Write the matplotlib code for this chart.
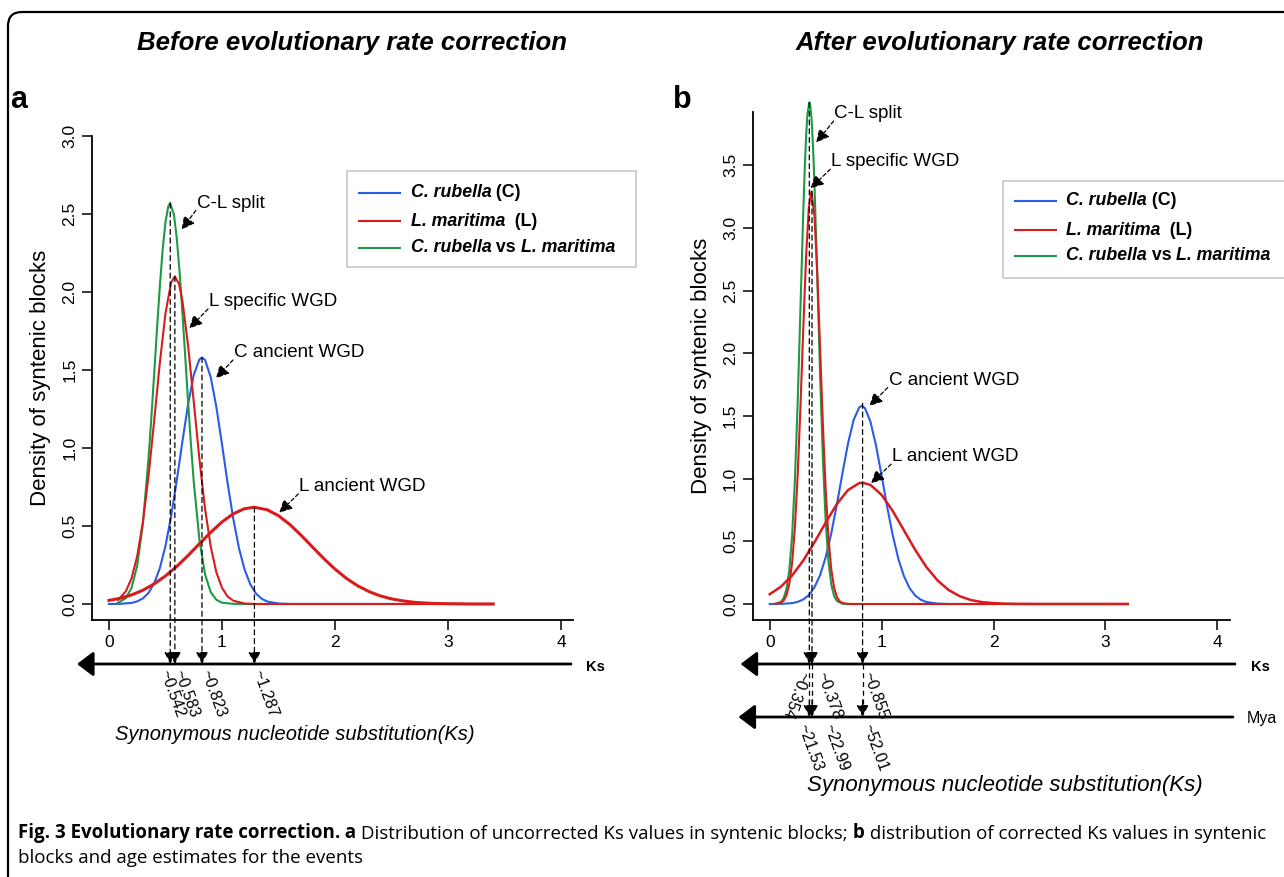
import matplotlib
matplotlib.use('Agg')
import matplotlib.pyplot as plt
from matplotlib.patches import FancyBboxPatch, Rectangle
from matplotlib.lines import Line2D
from matplotlib.transforms import IdentityTransform

W, H = 1284, 877
plt.rcParams['font.family'] = ['Liberation Sans', 'DejaVu Sans']

# ---------------- data ----------------
# Panel a (before correction)
a_blue_ks = [0.0, 0.1, 0.2, 0.25, 0.3, 0.35, 0.4, 0.45, 0.5, 0.55, 0.6, 0.65, 0.7, 0.75, 0.8, 0.823,
             0.85, 0.9, 0.95, 1.0, 1.05, 1.1, 1.15, 1.2, 1.25, 1.3, 1.35, 1.4, 1.5, 1.6, 3.4]
a_blue_d = [0.0, 0.001, 0.007, 0.017, 0.036, 0.071, 0.133, 0.230, 0.372, 0.563, 0.793, 1.043, 1.281, 1.468,
            1.568, 1.580, 1.564, 1.455, 1.264, 1.024, 0.774, 0.546, 0.359, 0.221, 0.127, 0.068, 0.034,
            0.016, 0.003, 0.0, 0.0]
a_green_ks = [0.08, 0.15, 0.20, 0.25, 0.30, 0.35, 0.375, 0.40, 0.425, 0.45, 0.475, 0.50, 0.525, 0.542,
              0.575, 0.60, 0.625, 0.65, 0.675, 0.70, 0.725, 0.75, 0.80, 0.85, 0.90, 0.95, 1.00, 1.10, 1.20, 3.40]
a_green_d = [0.007, 0.038, 0.104, 0.248, 0.515, 0.935, 1.196, 1.478, 1.765, 2.038, 2.272, 2.449, 2.550, 2.570,
             2.494, 2.344, 2.127, 1.866, 1.582, 1.295, 1.025, 0.784, 0.414, 0.190, 0.076, 0.027, 0.008,
             0.001, 0.0, 0.0]
a_red1_ks = [0.08, 0.15, 0.20, 0.25, 0.30, 0.35, 0.40, 0.45, 0.50, 0.55, 0.583, 0.62, 0.65, 0.70, 0.75,
             0.80, 0.85, 0.90, 0.95, 1.00, 1.05, 1.10, 1.20, 1.30, 3.40]
a_red1_d = [0.026, 0.082, 0.166, 0.308, 0.525, 0.821, 1.177, 1.546, 1.864, 2.061, 2.100, 2.051, 1.943, 1.657,
            1.297, 0.931, 0.611, 0.369, 0.204, 0.104, 0.048, 0.021, 0.003, 0.0, 0.0]
a_red2_ks = [0.0, 0.1, 0.2, 0.3, 0.4, 0.5, 0.6, 0.7, 0.8, 0.9, 1.0, 1.1, 1.2, 1.287, 1.4, 1.5, 1.6, 1.7,
             1.8, 1.9, 2.0, 2.1, 2.2, 2.3, 2.4, 2.5, 2.6, 2.7, 2.8, 2.9, 3.0, 3.2, 3.4]
a_red2_d = [0.023, 0.037, 0.058, 0.088, 0.129, 0.180, 0.241, 0.311, 0.386, 0.459, 0.526, 0.578, 0.611, 0.620,
            0.604, 0.566, 0.510, 0.441, 0.366, 0.292, 0.224, 0.165, 0.117, 0.080, 0.052, 0.033, 0.020,
            0.011, 0.006, 0.003, 0.002, 0.0, 0.0]
a_peak_ks = [0.542, 0.583, 0.823, 1.287]
a_peak_d = [2.57, 2.10, 1.58, 0.62]
a_peak_labels = ['~0.542', '~0.583', '~0.823', '~1.287']

# Panel b (after correction)
b_blue_ks = a_blue_ks[:-1] + [3.2]
b_blue_d = a_blue_d
b_green_ks = [0.05, 0.10, 0.125, 0.15, 0.175, 0.20, 0.225, 0.25, 0.275, 0.30, 0.3125, 0.325, 0.3375, 0.354,
              0.3625, 0.375, 0.3875, 0.40, 0.425, 0.45, 0.475, 0.50, 0.525, 0.55, 0.575, 0.60, 0.65, 0.70, 3.0]
b_green_d = [0.002, 0.017, 0.048, 0.120, 0.268, 0.541, 0.984, 1.607, 2.363, 3.128, 3.459, 3.726, 3.909, 4.000,
             3.976, 3.854, 3.637, 3.346, 2.615, 1.839, 1.164, 0.663, 0.340, 0.157, 0.065, 0.024, 0.002, 0.0, 0.0]
b_red1_ks = [0.05, 0.10, 0.125, 0.15, 0.175, 0.20, 0.225, 0.25, 0.275, 0.30, 0.325, 0.35, 0.3725, 0.40, 0.425,
             0.45, 0.475, 0.50, 0.525, 0.55, 0.575, 0.60, 0.625, 0.65, 0.70, 0.75, 3.2]
b_red1_d = [0.001, 0.010, 0.028, 0.070, 0.159, 0.326, 0.608, 1.029, 1.578, 2.194, 2.769, 3.168, 3.290, 3.095,
            2.642, 2.045, 1.436, 0.915, 0.528, 0.277, 0.132, 0.057, 0.022, 0.008, 0.001, 0.0, 0.0]
b_red2_ks = [0.0, 0.1, 0.2, 0.3, 0.4, 0.5, 0.6, 0.7, 0.8, 0.83, 0.9, 1.0, 1.1, 1.2, 1.3, 1.4, 1.5, 1.6,
             1.7, 1.8, 1.9, 2.0, 2.1, 2.2, 2.4, 3.2]
b_red2_d = [0.078, 0.138, 0.227, 0.347, 0.492, 0.649, 0.797, 0.909, 0.964, 0.967, 0.950, 0.870, 0.741, 0.587,
            0.432, 0.295, 0.188, 0.111, 0.061, 0.031, 0.015, 0.007, 0.003, 0.001, 0.0, 0.0]
b_peak_ks = [0.354, 0.378, 0.83]
b_peak_d = [4.00, 3.29, 1.60]
b_peak_labels = ['~0.354', '~0.378', '~0.855']
b_mya_labels = ['~21.53', '~22.99', '~52.01']

x_ticks = [0, 1, 2, 3, 4]
a_yticks = [0.0, 0.5, 1.0, 1.5, 2.0, 2.5, 3.0]
b_yticks = [0.0, 0.5, 1.0, 1.5, 2.0, 2.5, 3.0, 3.5]

legend_labels = [('C. rubella', ' (C)', ''), ('L. maritima', '  (L)', ''), ('C. rubella', ' vs ', 'L. maritima')]

BLUE, RED, GREEN = '#2a5ce8', '#d81c1c', '#1c9a45'

# ---------------- figure ----------------
fig = plt.figure(figsize=(W / 100, H / 100), dpi=100)


def ax_px(l, t, r, b):
    return fig.add_axes([l / W, 1 - b / H, (r - l) / W, (b - t) / H])


def style(ax, xlim, ylim, yticks):
    ax.set_xlim(*xlim)
    ax.set_ylim(*ylim)
    for s in ['top', 'right']:
        ax.spines[s].set_visible(False)
    for s in ['left', 'bottom']:
        ax.spines[s].set_linewidth(1.3)
    ax.set_xticks(x_ticks)
    ax.set_xticklabels([str(v) for v in x_ticks])
    ax.set_yticks(yticks)
    ax.set_yticklabels([f'{v:.1f}' for v in yticks], rotation=90, va='center')
    ax.tick_params(length=7, width=1.1, labelsize=12.5, pad=4)
    ax.patch.set_alpha(0)


def ypx(ax, y):
    return ax.transData.inverted().transform((0, H - y))[1]


def xpx(ax, x):
    return ax.transData.inverted().transform((x, 0))[0]


def big_arrow(ax, x_tip, x_end, y):
    yy = ypx(ax, y)
    ax.annotate('', xy=(xpx(ax, x_tip), yy), xytext=(xpx(ax, x_end), yy),
                arrowprops=dict(arrowstyle='-|>,head_length=0.5,head_width=0.38', lw=2.0, color='k',
                                shrinkA=0, shrinkB=0, mutation_scale=20), annotation_clip=False)


def vdash(ax, k, y0, y1_px):
    ax.annotate('', xy=(k, ypx(ax, y1_px)), xytext=(k, y0),
                arrowprops=dict(arrowstyle='-|>,head_length=0.55,head_width=0.28', lw=0.9, color='k',
                                linestyle=(0, (4, 3)), shrinkA=0, shrinkB=0, mutation_scale=13),
                annotation_clip=False)


def note(ax, text, tip, txt):
    ax.text(txt[0], txt[1], text, fontsize=13.5, ha='left', va='center')
    ax.annotate('', xy=tip, xytext=(txt[0], txt[1] - 0.04 * (ax.get_ylim()[1] - ax.get_ylim()[0]) / 3.1),
                arrowprops=dict(arrowstyle='-|>,head_length=0.55,head_width=0.28', lw=0.9, color='k',
                                linestyle=(0, (3, 2)), shrinkA=1, shrinkB=0, mutation_scale=14),
                annotation_clip=False)


def rot_label(ax, x_px, y_px, s, rot):
    ax.text(xpx(ax, x_px), ypx(ax, y_px), s, rotation=rot, rotation_mode='anchor', ha='left', va='center',
            fontsize=11.5, clip_on=False)


# ---- panel a ----
axa = ax_px(92.5, 136, 572.7, 620)
style(axa, (-0.146, 4.104), (-0.1026, 3.0), a_yticks)
axa.plot(a_blue_ks, a_blue_d, color=BLUE, lw=1.5, clip_on=False)
axa.plot(a_green_ks, a_green_d, color=GREEN, lw=1.5, clip_on=False)
axa.plot(a_red1_ks, a_red1_d, color=RED, lw=1.5, clip_on=False)
axa.plot(a_red2_ks, a_red2_d, color=RED, lw=2.2, clip_on=False)
axa.set_ylabel('Density of syntenic blocks', fontsize=16, labelpad=8)

big_arrow(axa, 77, 571, 664)
fig.text(586 / W, 1 - 667 / H, 'Ks', fontsize=10.5, fontweight='bold', ha='left', va='center')
for k, d in zip(a_peak_ks, a_peak_d):
    vdash(axa, k, d, 664)
a_lab_px = [163, 177, 204, 256]
for xp, s in zip(a_lab_px, a_peak_labels):
    rot_label(axa, xp, 670, s, -70)

note(axa, 'C-L split', (0.643, 2.40), (0.776, 2.57))
note(axa, 'L specific WGD', (0.711, 1.767), (0.885, 1.938))
note(axa, 'C ancient WGD', (0.947, 1.447), (1.106, 1.611))
note(axa, 'L ancient WGD', (1.507, 0.585), (1.684, 0.752))

# ---- panel b ----
axb = ax_px(753.3, 111.7, 1230.3, 620)
style(axb, (-0.1466, 4.116), (-0.1276, 3.926), b_yticks)
axb.plot(b_blue_ks, b_blue_d, color=BLUE, lw=1.5, clip_on=False)
axb.plot(b_green_ks, b_green_d, color=GREEN, lw=1.5, clip_on=False)
axb.plot(b_red1_ks, b_red1_d, color=RED, lw=1.5, clip_on=False)
axb.plot(b_red2_ks, b_red2_d, color=RED, lw=1.8, clip_on=False)
axb.set_ylabel('Density of syntenic blocks', fontsize=16, labelpad=8)

big_arrow(axb, 740.6, 1235, 664)
big_arrow(axb, 738.5, 1233, 717)
fig.text(1251 / W, 1 - 667 / H, 'Ks', fontsize=10.5, fontweight='bold', ha='left', va='center')
fig.text(1247 / W, 1 - 718 / H, 'Mya', fontsize=11.5, ha='left', va='center')
for k, d in zip(b_peak_ks, b_peak_d):
    vdash(axb, k, d, 664)
    axb.plot([k, k], [ypx(axb, 664), ypx(axb, 709)], color='k', lw=0.9, ls=(0, (4, 3)), clip_on=False)
    vdash(axb, k, ypx(axb, 700), 717)
rot_label(axb, 803, 672, b_peak_labels[0], -110)
rot_label(axb, 820, 672, b_peak_labels[1], -70)
rot_label(axb, 866, 672, b_peak_labels[2], -70)
for xp, s in zip([801, 827, 866], b_mya_labels):
    rot_label(axb, xp, 724, s, -70)

note(axb, 'C-L split', (0.416, 3.68), (0.579, 3.913))
note(axb, 'L specific WGD', (0.365, 3.315), (0.55, 3.527))
note(axb, 'C ancient WGD', (0.891, 1.579), (1.063, 1.786))
note(axb, 'L ancient WGD', (0.906, 0.963), (1.094, 1.175))


# ---- legends ----
def legend(ax, x0, y0, x1, y1, rows_y, line_x0, line_x1, text_x):
    fig.patches.append(Rectangle((x0 / W, 1 - y1 / H), (x1 - x0) / W, (y1 - y0) / H,
                                 transform=fig.transFigure, fill=False, ec='#c8c8c8', lw=1.2))
    for (a, b, c), col, y in zip(legend_labels, [BLUE, RED, GREEN], rows_y):
        fig.add_artist(Line2D([line_x0 / W, line_x1 / W], [1 - y / H, 1 - y / H], color=col, lw=1.5,
                              transform=fig.transFigure))
        t = fig.text(text_x / W, 1 - y / H, a, fontsize=12.8, fontweight='bold', fontstyle='italic',
                     ha='left', va='center')
        ann = ax.annotate(b, xy=(1, 0), xycoords=t, fontsize=12.8, fontweight='bold', ha='left', va='bottom',
                          annotation_clip=False)
        if c:
            ax.annotate(c, xy=(1, 0), xycoords=ann, fontsize=12.8, fontweight='bold', fontstyle='italic',
                        ha='left', va='bottom', annotation_clip=False)


legend(axa, 346.7, 170.7, 636, 267.3, [192.7, 221, 247.7], 359, 400, 410.7)
legend(axb, 1002.7, 181, 1300, 277.7, [200.7, 230, 256], 1015, 1055.7, 1066)

# ---- titles / labels ----
fig.text(352 / W, 1 - 43 / H, 'Before evolutionary rate correction', fontsize=18.5, fontweight='bold',
         fontstyle='italic', ha='center', va='center')
fig.text(1000 / W, 1 - 43 / H, 'After evolutionary rate correction', fontsize=18.5, fontweight='bold',
         fontstyle='italic', ha='center', va='center')
fig.text(10 / W, 1 - 100 / H, 'a', fontsize=22, fontweight='bold', ha='left', va='center')
fig.text(673 / W, 1 - 100 / H, 'b', fontsize=22, fontweight='bold', ha='left', va='center')
fig.text(295 / W, 1 - 734 / H, 'Synonymous nucleotide substitution(Ks)', fontsize=14.5, fontstyle='italic',
         ha='center', va='center')
fig.text(1005 / W, 1 - 785 / H, 'Synonymous nucleotide substitution(Ks)', fontsize=16, fontstyle='italic',
         ha='center', va='center')

# ---- caption ----
cap_font = ['Open Sans', 'DejaVu Sans']
CAP = 13.5
pieces = [('Fig. 3 Evolutionary rate correction.', 'bold'), (' a', 'bold'),
          (' Distribution of uncorrected Ks values in syntenic blocks;', 'normal'), (' b', 'bold'),
          (' distribution of corrected Ks values in syntenic', 'normal')]
prev = fig.text(18 / W, 1 - 833 / H, pieces[0][0], fontsize=CAP, fontweight='bold', family=cap_font,
                ha='left', va='center')
for s, w in pieces[1:]:
    prev = axa.annotate(s, xy=(1, 0), xycoords=prev, fontsize=CAP, fontweight=w, family=cap_font,
                        ha='left', va='bottom', annotation_clip=False)
fig.text(18 / W, 1 - 858 / H, 'blocks and age estimates for the events', fontsize=CAP, family=cap_font,
         ha='left', va='center')

# ---- border ----
fig.patches.append(FancyBboxPatch((8, -30), 1330, H - 12 + 30, boxstyle='round,pad=0,rounding_size=14',
                                  transform=IdentityTransform(), fill=False, ec='k', lw=1.6))

fig.savefig('out.png', dpi=100)
